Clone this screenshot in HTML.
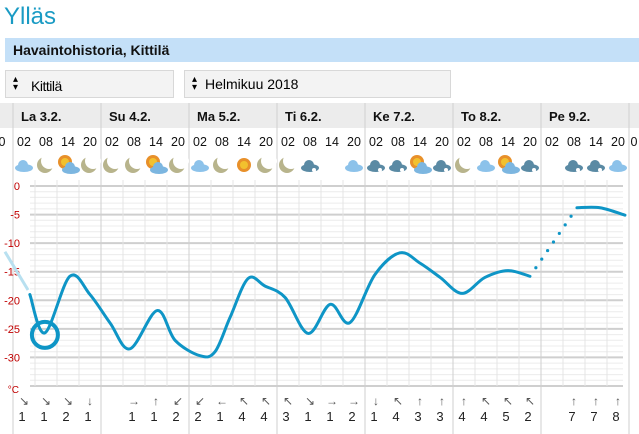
<!DOCTYPE html>
<html><head><meta charset="utf-8">
<style>
body{margin:0;width:639px;height:434px;overflow:hidden;background:#fff;font-family:"Liberation Sans",Arial,sans-serif;position:relative}
.abs{position:absolute}
</style></head>
<body>
<div class="abs" style="left:4px;top:3px;font-size:24px;color:#1a9bc4;">Ylläs</div>
<div class="abs" style="left:5px;top:38px;width:634px;height:24px;background:#c4e0f8;"><span style="position:absolute;left:8px;top:4px;font-size:14px;font-weight:bold;color:#111">Havaintohistoria, Kittilä</span></div>
<div class="abs" style="left:5px;top:70px;width:169px;height:28px;background:#f3f3f3;border:1px solid #d8d8d8;box-sizing:border-box;font-size:14px;"><span style="position:absolute;left:7px;top:5px;font-size:10px;line-height:8px">▴<br>▾</span><span style="position:absolute;left:25px;top:7px;letter-spacing:-0.5px">Kittilä</span></div>
<div class="abs" style="left:184px;top:70px;width:267px;height:28px;background:#f3f3f3;border:1px solid #d8d8d8;box-sizing:border-box;font-size:14px;"><span style="position:absolute;left:7px;top:5px;font-size:10px;line-height:8px">▴<br>▾</span><span style="position:absolute;left:20px;top:5px">Helmikuu 2018</span></div>

<svg class="abs" style="left:0;top:0" width="639" height="434" id="chart" xmlns="http://www.w3.org/2000/svg"></svg>

<script>
// ---- data ----
const days = ["La 3.2.","Su 4.2.","Ma 5.2.","Ti 6.2.","Ke 7.2.","To 8.2.","Pe 9.2."];
const slotTimes = ["02","08","14","20"];
const yTicks = [0,-5,-10,-15,-20,-25,-30];
// temperature observations: hours since 3.2. 00:00 and temperature °C
const tempHours = [4.6,8.7,15.5,21,26.5,31.9,39.3,44.2,51,55.1,59.2,64.1,68.7,74.2,80.5,86.5,91.9,98.7,105.5,111,116.5,122.5,128.7,135,141];
const tempValues = [-19,-25.7,-15.8,-19,-24,-28.5,-21.8,-27,-29.7,-29,-23,-16.2,-17.5,-19.5,-25.8,-20.7,-23.9,-15.5,-11.7,-13.5,-16,-18.8,-16,-14.8,-15.8];
const tailHours = [153.8,160.1,166.9];
const tailValues = [-3.8,-3.8,-5.1];
const leadHours = [-2.2,4.1];
const leadValues = [-11.5,-18.2];
const icons = ["c","m","sc","m","m","m","sc","m","c","m","s","m","m","d","","cs","d","d","sc","d","m","c","sc","d","","d","d","c"];
const windDir = ["↘","↘","↘","↓","","→","↑","↙","↙","←","↖","↖","↖","↘","→","→","↓","↖","↑","↑","↑","↖","↖","↖","","↑","↑","↑"];
const windSpd = ["1","1","2","1","","1","1","2","2","1","4","4","3","1","1","2","1","4","3","3","4","4","5","2","","7","7","8"];

// ---- axes ----
const X0=13, DAYW=88;
const xH = h => X0 + h*DAYW/24;
const yT = t => 186 + (-t)*200/35;
const slotX = i => 24 + 22*i;

const svg=document.getElementById('chart');
const NS='http://www.w3.org/2000/svg';
function mk(tag,attrs,parent){const e=document.createElementNS(NS,tag);for(const k in attrs)e.setAttribute(k,attrs[k]);(parent||svg).appendChild(e);return e;}

let e;
e=mk('rect',{x:0,y:103,width:639,height:25,fill:'#ececec'});



const g=mk('g',{});


for(let t=0;t>=-35;t--){
  const heavy=t%5===0;
  mk('line',{x1:30,x2:623,y1:yT(t),y2:yT(t),stroke:heavy?'#cfcfcf':'#ececec','stroke-width':heavy?2:1},g);
}
for(let k=0;k<=28;k++){
  const x=X0+22*k;
  if(k%4===0) continue;
  mk('line',{x1:x,x2:x,y1:180,y2:386,stroke:'#e4e4e4','stroke-width':1},g);
}
for(let d=0;d<=7;d++){
  const x=X0+DAYW*d;
  mk('line',{x1:x,x2:x,y1:103,y2:434,stroke:'#cfcfcf','stroke-width':1},g);
}
yTicks.forEach(t=>{
  const tx=mk('text',{x:20,y:yT(t)+4,'text-anchor':'end','font-size':11,fill:'#c00000'});
  tx.textContent=t;
  
  
});
e=mk('text',{x:19,y:393,'text-anchor':'end','font-size':10,fill:'#c00000'});e.textContent='°C';



days.forEach((d,i)=>{
  const t=mk('text',{x:X0+DAYW*i+8,y:121,'font-size':13,'font-weight':'bold',fill:'#111'});
  t.textContent=d;
  
  
  slotTimes.forEach((s,j)=>{
    const tt=mk('text',{x:slotX(i*4+j),y:146,'text-anchor':'middle','font-size':12.5,fill:'#111'});
    tt.textContent=s;
    
    
  });
});
e=mk('text',{x:2,y:146,'text-anchor':'middle','font-size':12.5,fill:'#111'});e.textContent='0';


e=mk('text',{x:634,y:146,'text-anchor':'middle','font-size':12.5,fill:'#111'});e.textContent='0';



function drawIcon(type,cx,cy){
  const ig=mk('g',{});
  
  
  const moon=()=>{mk('circle',{cx:cx-1,cy:cy,r:8,fill:'#b8b48c'},ig);mk('circle',{cx:cx+3,cy:cy-4,r:8,fill:'#fff'},ig);};
  const sun=(x,y)=>{mk('circle',{cx:x,cy:y,r:7,fill:'#e8902a'},ig);mk('circle',{cx:x,cy:y,r:4,fill:'#f2c12e'},ig);};
  const cloud=(col,x,y)=>{mk('ellipse',{cx:x,cy:y+3,rx:9,ry:4,fill:col},ig);mk('circle',{cx:x-1,cy:y,r:5,fill:col},ig);};
  if(type==='m')moon();
  else if(type==='s')sun(cx,cy);
  else if(type==='sc'){sun(cx-3,cy-3);cloud('#7cb6e0',cx+3,cy+2);}
  else if(type==='c'||type==='cs')cloud('#8cc2ea',cx,cy);
  else if(type==='d'){cloud('#5a8aa4',cx,cy);mk('circle',{cx:cx+4,cy:cy+5,r:2,fill:'#fff'},ig);}
}
icons.forEach((t,i)=>{if(t)drawIcon(t,slotX(i),165);});

function pathFrom(hs,vs){
  const p=hs.map((h,i)=>[xH(h),yT(vs[i])]);
  let d=`M${p[0][0]},${p[0][1]}`;
  for(let i=0;i<p.length-1;i++){
    const p0=p[i-1]||p[i],p1=p[i],p2=p[i+1],p3=p[i+2]||p2;
    const c1=[p1[0]+(p2[0]-p0[0])/6,p1[1]+(p2[1]-p0[1])/6];
    const c2=[p2[0]-(p3[0]-p1[0])/6,p2[1]-(p3[1]-p1[1])/6];
    d+=` C${c1[0]},${c1[1]} ${c2[0]},${c2[1]} ${p2[0]},${p2[1]}`;
  }
  return d;
}
e=mk('path',{d:pathFrom(leadHours,leadValues),fill:'none',stroke:'#b8e0f0','stroke-width':3});


e=mk('path',{d:pathFrom(tempHours,tempValues),fill:'none',stroke:'#0e95c6','stroke-width':3,'stroke-linecap':'round'});


e=mk('path',{d:pathFrom(tailHours,tailValues),fill:'none',stroke:'#0e95c6','stroke-width':3,'stroke-linecap':'round'});


const gl=tempHours.length-1;
const nDots=7;
for(let k=1;k<=nDots;k++){
  const f=k/(nDots+1);
  const h=tempHours[gl]+(tailHours[0]-tempHours[gl])*f;
  const v=tempValues[gl]+(tailValues[0]-tempValues[gl])*f;
  e=mk('circle',{cx:xH(h),cy:yT(v),r:1.6,fill:'#0e95c6'});
  
  
}
let mi=0;for(let i=0;i<4;i++)if(tempValues[i]<tempValues[mi])mi=i;
e=mk('circle',{cx:xH(tempHours[mi]),cy:yT(tempValues[mi])+2,r:13,fill:'none',stroke:'#0e95c6','stroke-width':4});



windDir.forEach((a,i)=>{
  if(!a)return;
  const t=mk('text',{x:slotX(i),y:405,'text-anchor':'middle','font-size':12,fill:'#555'});
  t.textContent=a;
  
  
  const s=mk('text',{x:slotX(i)-2,y:421,'text-anchor':'middle','font-size':13,fill:'#222'});
  s.textContent=windSpd[i];
  
  
});
</script>
</body></html>
